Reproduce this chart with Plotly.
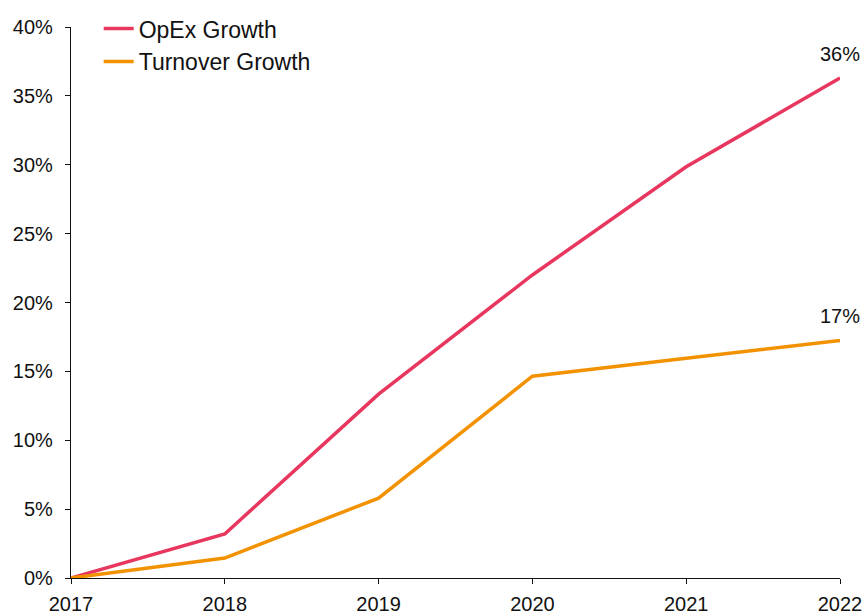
import plotly.graph_objects as go

years = [2017, 2018, 2019, 2020, 2021, 2022]
opex_growth = [0.0, 3.2, 13.35, 22.0, 29.85, 36.3]
turnover_growth = [0.0, 1.45, 5.8, 14.65, 15.95, 17.25]
y_ticks = [0, 5, 10, 15, 20, 25, 30, 35, 40]
y_tick_labels = [f"{v}%" for v in y_ticks]

PINK = "#E8375E"
ORANGE = "#F39200"
FONT = "Liberation Sans, Arial, Helvetica, sans-serif"

fig = go.Figure()
fig.add_trace(go.Scatter(x=years, y=opex_growth, mode="lines", name="OpEx Growth",
                         line=dict(color=PINK, width=3.5), cliponaxis=False))
fig.add_trace(go.Scatter(x=years, y=turnover_growth, mode="lines", name="Turnover Growth",
                         line=dict(color=ORANGE, width=3.5), cliponaxis=False))

for series in (opex_growth, turnover_growth):
    fig.add_annotation(x=years[-1], y=series[-1], text=f"{round(series[-1])}%",
                       showarrow=False, yshift=24, xanchor="center", yanchor="middle",
                       font=dict(size=20, color="#111111", family=FONT))

fig.update_layout(
    width=862, height=615,
    margin=dict(l=71, r=22, t=27, b=37, autoexpand=False),
    paper_bgcolor="white", plot_bgcolor="white",
    font=dict(family=FONT, size=20, color="#111111"),
    showlegend=True,
    legend=dict(x=0.036, y=1.036, xanchor="left", yanchor="top",
                font=dict(size=23, color="#111111"), bgcolor="rgba(0,0,0,0)",
                itemwidth=30, tracegroupgap=0),
)
fig.update_xaxes(range=[2017, 2022], tickvals=years, ticktext=[str(y) for y in years],
                 showgrid=False, zeroline=False, showline=True, linecolor="#111111", linewidth=1.2,
                 ticks="outside", ticklen=5, tickcolor="#111111", tickfont=dict(size=20),
                 ticklabelstandoff=3, ticklabeloverflow="allow", automargin=False)
fig.update_yaxes(range=[0, 40], tickvals=y_ticks, ticktext=y_tick_labels,
                 showgrid=False, zeroline=False, showline=True, linecolor="#111111", linewidth=1.2,
                 ticks="outside", ticklen=5, tickcolor="#111111", tickfont=dict(size=20),
                 ticklabelstandoff=8, ticklabeloverflow="allow", automargin=False)

fig.write_html(
    "out.html",
    config={"displayModeBar": False},
    post_script="document.body.style.margin='0';"
                "document.body.style.overflow='hidden';"
                "document.documentElement.style.overflow='hidden';",
)
